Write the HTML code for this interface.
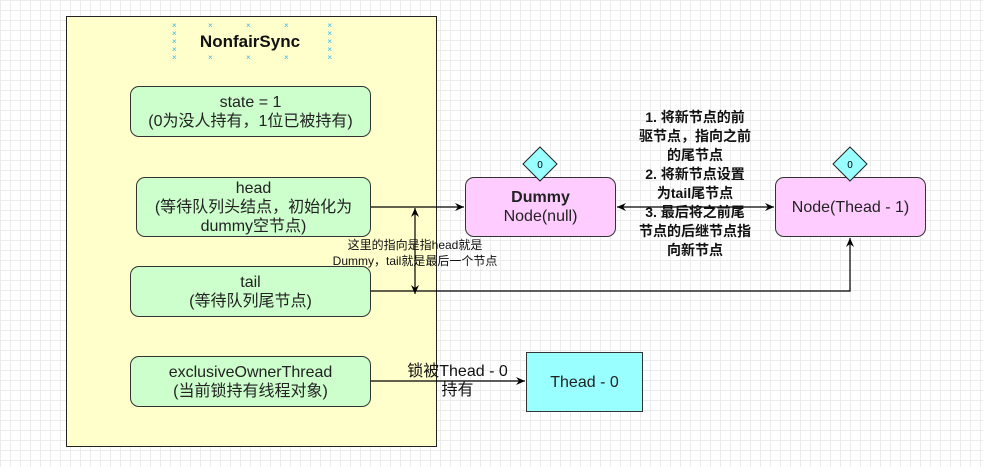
<!DOCTYPE html>
<html><head><meta charset="utf-8"><style>
body{margin:0;width:983px;height:467px;overflow:hidden;background:#fff;
background-image:linear-gradient(#ececec 1px,transparent 1px),linear-gradient(90deg,#ececec 1px,transparent 1px);background-size:10px 10px;
font-family:"Liberation Sans","Noto Sans CJK SC",sans-serif;position:relative}
.b{position:absolute;box-sizing:border-box;border:1px solid #333;display:flex;align-items:center;justify-content:center;text-align:center;font-size:16px;line-height:19px;color:#222}
.g{background:#ccffcc;border-radius:9px}
.p{background:#ffccff;border-radius:9px}
.t{position:absolute;text-align:center;color:#111}
</style></head><body>
<div class="b" style="left:66px;top:16px;width:371px;height:431px;background:#ffffcc;border-color:#222;align-items:flex-start"></div>
<div class="t" style="left:180px;top:32px;width:140px;font-weight:bold;font-size:17px">NonfairSync</div>
<div class="b g" style="left:130px;top:86px;width:241px;height:51px">state = 1<br>(0为没人持有，1位已被持有)</div>
<div class="b g" style="left:136px;top:177px;width:235px;height:60px">head<br>(等待队列头结点，初始化为<br>dummy空节点)</div>
<div class="b g" style="left:130px;top:266px;width:241px;height:51px">tail<br>(等待队列尾节点)</div>
<div class="b g" style="left:130px;top:356px;width:241px;height:51px">exclusiveOwnerThread<br>(当前锁持有线程对象)</div>
<div class="b p" style="left:465px;top:177px;width:151px;height:60px"><span><b>Dummy</b><br>Node(null)</span></div>
<div class="b p" style="left:775px;top:177px;width:151px;height:60px">Node(Thead - 1)</div>
<div class="b" style="left:526px;top:352px;width:117px;height:60px;background:#99ffff">Thead - 0</div>
<svg width="983" height="467" style="position:absolute;left:0;top:0">
<defs><marker id="a" markerWidth="10" markerHeight="10" refX="9" refY="5" orient="auto-start-reverse" markerUnits="userSpaceOnUse"><path d="M0,1 L9,5 L0,9 L3,5z" fill="#000"/></marker></defs>
<g stroke="#000" stroke-width="1.2" fill="none">
<line x1="371" y1="207" x2="464" y2="207" marker-end="url(#a)"/>
<line x1="617" y1="207" x2="774" y2="207" marker-start="url(#a)" marker-end="url(#a)"/>
<polyline points="371,291 850,291 850,238" marker-end="url(#a)"/>
<line x1="415" y1="294" x2="415" y2="208" marker-start="url(#a)" marker-end="url(#a)"/>
<line x1="371" y1="381" x2="525" y2="381" marker-end="url(#a)"/>
</g>
<g fill="#99ffff" stroke="#222"><polygon points="540,147 557,164 540,181 523,164"/><polygon points="850,147 867,164 850,181 833,164"/></g>
<g font-size="10" text-anchor="middle" font-family="Liberation Sans"><text x="540" y="168">0</text><text x="850" y="168">0</text></g>
</svg>
<div class="t" style="left:315px;top:237px;width:200px;font-size:12px;line-height:16px;background:transparent">这里的指向是指head就是<br>Dummy，tail就是最后一个节点</div>
<div class="t" style="left:610px;top:108px;width:170px;font-size:14px;font-weight:bold;line-height:19px">1. 将新节点的前<br>驱节点，指向之前<br>的尾节点<br>2. 将新节点设置<br>为tail尾节点<br>3. 最后将之前尾<br>节点的后继节点指<br>向新节点</div>
<div class="t" style="left:390px;top:362px;width:135px;font-size:16px;line-height:19px">锁被Thead - 0<br>持有</div>
<div style="position:absolute;left:172px;top:22px;width:160px;height:36px;font-size:8px;color:#29b6f6;line-height:8px">
<span style="position:absolute;left:0;top:0">×<br>×<br>×<br>×<br>×</span>
<span style="position:absolute;right:0;top:0">×<br>×<br>×<br>×<br>×</span>
<span style="position:absolute;left:36px;top:0">×</span><span style="position:absolute;left:74px;top:0">×</span><span style="position:absolute;left:112px;top:0">×</span>
<span style="position:absolute;left:36px;top:32px">×</span><span style="position:absolute;left:74px;top:32px">×</span><span style="position:absolute;left:112px;top:32px">×</span>
</div>
</body></html>
